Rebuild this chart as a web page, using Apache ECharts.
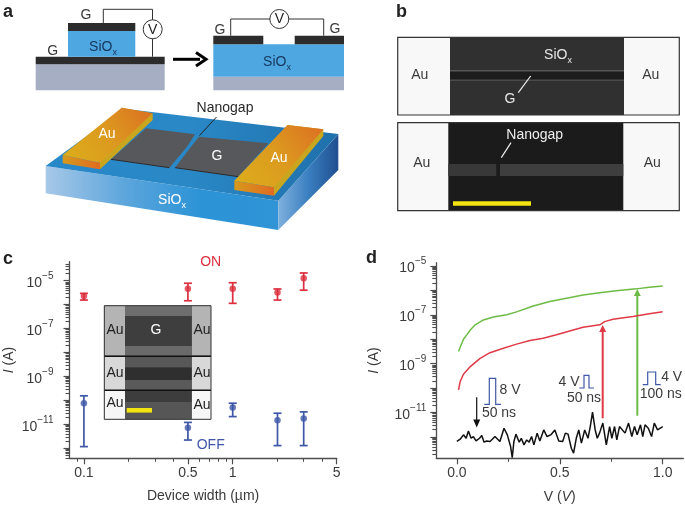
<!DOCTYPE html>
<html><head><meta charset="utf-8">
<style>html,body{margin:0;padding:0;background:#fff}#c{width:685px;height:506px}</style>
<script src="https://cdn.jsdelivr.net/npm/echarts@6/dist/echarts.min.js"></script>
</head><body><div id="c"></div>
<script>
// Panel c data: device width, current (A)
const widths = [0.1, 0.5, 1, 2, 3];
const onMid  = [2.3e-6, 4.6e-6, 4.6e-6, 3.2e-6, 1.26e-5];
const onHigh = [2.95e-6, 7.8e-6, 8.2e-6, 4.5e-6, 2.1e-5];
const onLow  = [1.55e-6, 1.45e-6, 1.13e-6, 1.55e-6, 4.0e-6];
const offMid  = [7.6e-11, 7.2e-12, 5.0e-11, 1.48e-11, 1.74e-11];
const offHigh = [1.55e-10, 1.2e-11, 7.6e-11, 2.9e-11, 3.3e-11];
const offLow  = [1.17e-12, 2.2e-12, 2.1e-11, 1.29e-12, 1.29e-12];

// Panel d data: voltage, log10 of current
const greenV = [0.008,0.016,0.032,0.048,0.065,0.089,0.129,0.177,0.242,0.290,0.371,0.452,0.532,0.613,0.694,0.774,0.871,0.935,1.0];
const greenLogI = [-8.50,-8.33,-8.00,-7.82,-7.62,-7.41,-7.21,-7.09,-7.00,-6.88,-6.64,-6.46,-6.32,-6.19,-6.10,-6.02,-5.94,-5.87,-5.82];
const redV = [0.008,0.016,0.032,0.065,0.113,0.161,0.226,0.290,0.355,0.419,0.484,0.548,0.613,0.694,0.718,0.758,0.855,0.935,1.0];
const redLogI = [-10.07,-9.73,-9.43,-9.12,-8.78,-8.55,-8.37,-8.20,-8.05,-7.96,-7.82,-7.66,-7.51,-7.41,-7.28,-7.18,-7.07,-6.96,-6.88];
const blackV = [0,0.016,0.032,0.045,0.056,0.069,0.080,0.093,0.110,0.121,0.132,0.145,0.161,0.185,0.209,0.229,0.245,0.261,0.269,0.277,0.287,0.303,0.313,0.326,0.339,0.351,0.363,0.374,0.390,0.403,0.422,0.438,0.458,0.476,0.495,0.514,0.527,0.540,0.556,0.567,0.580,0.592,0.605,0.621,0.637,0.648,0.659,0.672,0.682,0.693,0.709,0.726,0.742,0.753,0.766,0.777,0.790,0.817,0.834,0.850,0.863,0.876,0.892,0.903,0.914,0.930,0.946,0.959,0.975,1.0];
const blackLogI = [-12.18,-12.09,-11.91,-12.05,-11.75,-12.05,-11.98,-12.16,-12.05,-11.94,-12.21,-12.16,-12.18,-11.98,-12.18,-11.64,-11.91,-12.39,-12.84,-12.18,-11.88,-12.21,-12.05,-12.32,-12.12,-12.21,-11.98,-12.32,-11.84,-12.16,-11.71,-11.98,-11.90,-11.71,-12.16,-12.18,-11.84,-11.88,-12.46,-12.66,-12.05,-11.71,-12.25,-11.71,-12.05,-11.57,-10.985,-11.71,-12.05,-11.84,-11.43,-12.32,-11.57,-12.05,-11.57,-12.12,-11.57,-11.84,-11.43,-11.98,-11.57,-11.91,-11.50,-11.98,-11.50,-11.64,-11.98,-11.43,-11.71,-11.57];

// Axis tick lists
const cXMajor = [0.1, 0.5, 1, 5];
const cXMinor = [0.09, 0.2, 0.3, 0.4, 0.6, 0.7, 0.8, 0.9, 2, 3, 4];
const yLabels = [1e-5, 1e-7, 1e-9, 1e-11];
const yDecades = [1e-5, 1e-6, 1e-7, 1e-8, 1e-9, 1e-10, 1e-11, 1e-12, 1e-13];
const yMinor = [5e-5,4e-5,3e-5,2e-5,9e-6,8e-6,7e-6,6e-6,5e-6,4e-6,3e-6,2e-6,9e-7,8e-7,7e-7,6e-7,5e-7,4e-7,3e-7,2e-7,9e-8,8e-8,7e-8,6e-8,5e-8,4e-8,3e-8,2e-8,9e-9,8e-9,7e-9,6e-9,5e-9,4e-9,3e-9,2e-9,9e-10,8e-10,7e-10,6e-10,5e-10,4e-10,3e-10,2e-10,9e-11,8e-11,7e-11,6e-11,5e-11,4e-11,3e-11,2e-11,9e-12,8e-12,7e-12,6e-12,5e-12,4e-12,3e-12,2e-12,9e-13,8e-13,7e-13,6e-13,5e-13,4e-13,3e-13,2e-13];
const dXLabels = [0, 0.5, 1];
const dXMinor = [0.25, 0.75];

const FONT = '"Liberation Sans", Arial, sans-serif';
const TXT = '#3a3a3a', AX = '#4d4d4d';
const RED = '#dc2f3f', BLUE = '#3f57a6', GREEN = '#6dbb45', DRED = '#df3a46';

const G = echarts.graphic;
const g = [];
function rect(x, y, w, h, fill, extra) { g.push(Object.assign({type:'rect', shape:{x,y,width:w,height:h}, style:{fill}}, extra||{})); }
function line(points, stroke, lw) { g.push({type:'polyline', shape:{points}, style:{stroke, lineWidth:lw||1, fill:null}}); }
function poly(points, fill) { g.push({type:'polygon', shape:{points}, style:{fill}}); }
function txt(x, y, text, o) {
  o = o || {};
  g.push({type:'text', z:o.z||5, style:{x, y, text, align:o.align||'center', verticalAlign:'middle', fill:o.fill||TXT,
    font:(o.weight||'normal')+' '+(o.size||14)+'px '+FONT, rich:o.rich}});
}
function siox(x, y, fill, size) {
  txt(x, y, '{a|SiO}{s|x}', {fill, rich:{
    a:{fill, fontFamily:'Liberation Sans', fontSize:size||14, lineHeight:20},
    s:{fill, fontFamily:'Liberation Sans', fontSize:(size||14)-5, lineHeight:13, verticalAlign:'bottom'}}});
}
const z3 = p => p.map(q => [q[0]/3, q[1]/3]);
function grad(x0,y0,x1,y1,stops){ return new G.LinearGradient(x0,y0,x1,y1,stops.map((c,i)=>({offset:i/(stops.length-1),color:c}))); }

// Panel letters
txt(3,12,'a',{align:'left',weight:'bold',size:18,fill:'#222'});
txt(396,12,'b',{align:'left',weight:'bold',size:18,fill:'#222'});
txt(3,259,'c',{align:'left',weight:'bold',size:18,fill:'#222'});
txt(366,258,'d',{align:'left',weight:'bold',size:18,fill:'#222'});

// Panel a schematic, left stack
const SB='#4ea7e0', GR='#a6aec4', BK='#2c2c2c', NAVY='#16365c';
rect(35.7,64.3,129,26,GR);
rect(35.7,56.7,129,7.6,BK);
rect(68,31,67.3,25.7,SB);
rect(68,23,67.3,8,BK);
line([[103.3,23],[103.3,9.3],[152.5,9.3],[152.5,56.7]],'#333',1);
g.push({type:'circle',shape:{cx:152.7,cy:29.3,r:9.5},style:{fill:'#fff',stroke:'#333',lineWidth:1}});
txt(152.7,29.8,'V',{size:14,fill:'#222'});
txt(86,15,'G',{size:14}); txt(52.7,51,'G',{size:14});
siox(103,47,NAVY);
// process arrow
g.push({type:'line',shape:{x1:173,y1:59.3,x2:200,y2:59.3},style:{stroke:'#000',lineWidth:3}});
line([[196,52.5],[206,59.3],[196,66]],'#000',3);
// Panel a schematic, right stack
rect(213.3,76.7,130.7,13.6,GR);
rect(213.3,44.3,130.7,32.4,SB);
rect(213.3,35.7,50,8.6,BK);
rect(294.7,35.7,49.3,8.6,BK);
line([[230.7,35.7],[230.7,19],[323.7,19],[323.7,35.7]],'#333',1);
g.push({type:'circle',shape:{cx:279.3,cy:19,r:9.5},style:{fill:'#fff',stroke:'#333',lineWidth:1}});
txt(279.3,19.5,'V',{size:14,fill:'#222'});
txt(220,30,'G',{size:14}); txt(335,29.3,'G',{size:14});
siox(277,62.5,NAVY);

// Panel a, 3D device
poly(z3([[137,498],[835,602],[835,690],[137,580]]), grad(0,0,1,0,['#a7c8e8','#5ea6dc','#2b93d6','#3094d6']));
poly(z3([[835,602],[1015,402],[1015,510],[835,690]]), grad(0,0,1,0,['#7fb0de','#3a7fc0','#1f4f90']));
poly(z3([[372,326],[1015,402],[835,602],[137,498]]), grad(0,0,1,0.15,['#2788c8','#2a88c6','#1f70ab']));
poly(z3([[438,385],[585,403],[560,442],[508,503],[333,478]]), '#57585b');
poly(z3([[597,410],[805,430],[715,530],[525,503],[572,442]]), '#57585b');
line(z3([[333,478],[508,503]]),'#2b2b2b',1);
line(z3([[525,503],[715,530]]),'#2b2b2b',1);
// gold bars
poly(z3([[365,323],[458,340],[458,360],[300,508],[300,488]]), '#c9a61d');
poly(z3([[188,465],[300,488],[300,508],[188,490]]), grad(0,0,1,0,['#d69a1c','#e06a22']));
poly(z3([[365,323],[458,340],[300,488],[188,465]]), grad(0,1,1,0,['#dcae1a','#dc9a1f','#dc6f22']));
poly(z3([[862,375],[970,388],[970,408],[822,587],[822,562]]), '#c9a61d');
poly(z3([[703,542],[822,562],[822,587],[703,570]]), grad(0,0,1,0,['#d69a1c','#e06a22']));
poly(z3([[862,375],[970,388],[822,562],[703,542]]), grad(0,1,1,0,['#dcae1a','#dc9a1f','#dc6f22']));
txt(107,134,'Au',{fill:'#fff',size:14}); txt(279,158,'Au',{fill:'#fff',size:14});
txt(217,156,'G',{fill:'#fff',size:14});
siox(172,200,'#fff');
txt(225,108.5,'Nanogap',{size:14,fill:'#2a2a2a'});
line([[216.5,117],[199.5,135.5]],'#222',1);

// Panel b, micrographs
function frame(y, h, dx, dw, bg){
  rect(397.7,y,281.6,h,'#f8f8f8',{});
  rect(dx,y,dw,h,bg);
}
frame(37.3,77.7,450,174,'#303030');
rect(450,71,174,10,'#1c1c1c');
rect(450,70,174,1.4,'#565656'); rect(450,79.5,174,1.4,'#4a4a4a');
frame(122.7,88,448.3,175,'#1b1b1b');
rect(448.3,164,48,12,'#383838'); rect(500,164,123.3,12,'#3e3e3e');
rect(397.7,37.3,281.6,77.7,'none',{style:{fill:'none',stroke:'#333',lineWidth:1.2}});
rect(397.7,122.7,281.6,88,'none',{style:{fill:'none',stroke:'#333',lineWidth:1.2}});
rect(453,201.3,78,4.4,'#f2e311');
siox(558,55.5,'#e8e8e8');
txt(510,99.5,'G',{fill:'#e8e8e8'});
line([[530.7,76],[518.3,92.7]],'#eee',1.2);
txt(419.7,75.3,'Au'); txt(650.7,75.3,'Au'); txt(421.7,163.3,'Au'); txt(652.3,163.3,'Au');
txt(534.7,135,'Nanogap',{fill:'#eee'});
line([[511,142.7],[501.3,157.7]],'#eee',1.2);

// Panel c text
txt(210.7,262,'ON',{fill:RED,size:14});
txt(210.7,444.7,'OFF',{fill:BLUE,size:14});

// Panel d annotations
function arrow(x,y0,y1,c,lw,hw){
  g.push({type:'line',shape:{x1:x,y1:y0,x2:x,y2:y1+4},style:{stroke:c,lineWidth:lw}});
  poly([[x-hw,y1+7],[x+hw,y1+7],[x,y1]],c);
}
g.push({type:'line',shape:{x1:476.7,y1:397.3,x2:476.7,y2:421},style:{stroke:'#111',lineWidth:1.2}});
poly([[473.2,419.5],[480.2,419.5],[476.7,427.5]],'#111');
arrow(602.7,418.3,325,DRED,2,3.5);
arrow(637.3,415.7,289,GREEN,2,3.5);
line([[484.3,404.3],[489.3,404.3],[489.3,378.3],[495.7,378.3],[495.7,404.3],[501,404.3]],BLUE,1.2);
line([[579.3,388],[584,388],[584,375.3],[589,375.3],[589,388],[594,388]],BLUE,1.2);
line([[642.7,384.7],[647.7,384.7],[647.7,372],[655.7,372],[655.7,384.7],[660.7,384.7]],BLUE,1.2);
txt(510,390.3,'8 V'); txt(499,413,'50 ns');
txt(569,382.3,'4 V'); txt(584,398.3,'50 ns');
txt(671.7,377,'4 V'); txt(660.7,394.3,'100 ns');

// Inset of panel c, above the axes
function inRect(x,y,w,h,f){ g.push({type:'rect',z:20,shape:{x,y,width:w,height:h},style:{fill:f}}); }
inRect(104.3,305.7,106.7,113.6,'#444');
inRect(104.3,305.7,20.7,50,'#b4b4b4'); inRect(191.7,305.7,19.3,50,'#b4b4b4');
inRect(104.3,357,20.7,33,'#d8d8d8'); inRect(191.7,357,19.3,33,'#d8d8d8');
inRect(104.3,391,20.7,28.3,'#f6f6f6'); inRect(191.7,391,19.3,28.3,'#f6f6f6');
inRect(125,305.7,66.7,10.3,'#6e6e6e'); inRect(125,316,66.7,30,'#3e3e3e'); inRect(125,346,66.7,10,'#6a6a6a');
inRect(125,357,66.7,10.5,'#585858'); inRect(125,367.5,66.7,12.5,'#2f2f2f'); inRect(125,380,66.7,10,'#5a5a5a');
inRect(125,391,66.7,11,'#3d3d3d'); inRect(125,402,66.7,17.3,'#565656');
inRect(104.3,355.5,106.7,1.6,'#111'); inRect(104.3,389.5,106.7,1.6,'#111');
inRect(126.7,408,25.3,4.6,'#f2e311');
g.push({type:'rect',z:21,shape:{x:104.3,y:305.7,width:106.7,height:113.6},style:{fill:'none',stroke:'#333',lineWidth:1}});
[[115,330],[202,330],[115,372.7],[202,372.7],[115,403.3],[202,404.7]].forEach(p=>txt(p[0],p[1],'Au',{size:14,z:22,fill:'#222'}));
txt(156,330,'G',{size:14,z:22,fill:'#fff'});

// Axes
const expLabel = v => '{b|10}{e|\u2212' + Math.round(-Math.log10(v)) + '}';
const richExp = {
  b:{fontFamily:'Liberation Sans',fontSize:14,color:TXT,lineHeight:19,verticalAlign:'bottom'},
  e:{fontFamily:'Liberation Sans',fontSize:10,color:TXT,lineHeight:19,verticalAlign:'top'}
};
const axLine = {show:true,onZero:false,lineStyle:{color:AX,width:1.3}};
const noLine = {show:false,onZero:false};
function logY(grid, min, max, margin){
  return [
    {type:'log',gridIndex:grid,min,max,position:'left',splitLine:{show:false},axisLine:axLine,
     axisTick:{show:true,length:6,customValues:yDecades,lineStyle:{color:AX,width:1.2}},
     axisLabel:{show:true,customValues:yLabels,formatter:expLabel,rich:richExp,margin,showMinLabel:true,showMaxLabel:true}},
    {type:'log',gridIndex:grid,min,max,position:'left',splitLine:{show:false},axisLine:noLine,
     axisTick:{show:true,length:4,customValues:yMinor,lineStyle:{color:AX,width:1.1}},axisLabel:{show:false}}
  ];
}
const nameIA = {
  name:'{i|I} (A)',nameLocation:'middle',nameMoveOverlap:false,
  nameTextStyle:{rich:{i:{fontStyle:'italic',fontFamily:'Liberation Sans',fontSize:14,color:TXT}},fontFamily:'Liberation Sans',fontSize:14,color:TXT}
};
const xAxes = [
  {type:'log',gridIndex:0,min:0.08,max:5,position:'bottom',splitLine:{show:false},axisLine:axLine,
   axisTick:{show:true,length:6,customValues:cXMajor,lineStyle:{color:AX,width:1.2}},
   axisLabel:{show:true,customValues:cXMajor,formatter:v=>String(Math.round(v*10)/10),fontFamily:'Liberation Sans',fontSize:14,color:TXT,margin:8},
   name:'Device width (\u00b5m)',nameLocation:'middle',nameGap:31,nameMoveOverlap:false,nameTextStyle:{fontFamily:'Liberation Sans',fontSize:14,color:TXT}},
  {type:'log',gridIndex:0,min:0.08,max:5,position:'bottom',splitLine:{show:false},axisLine:noLine,
   axisTick:{show:true,length:3.5,customValues:cXMinor,lineStyle:{color:AX,width:1}},axisLabel:{show:false}},
  {type:'value',gridIndex:1,min:-0.1,max:1.1,position:'bottom',splitLine:{show:false},axisLine:axLine,
   axisTick:{show:true,length:6,customValues:dXLabels,lineStyle:{color:AX,width:1.2}},
   axisLabel:{show:true,customValues:dXLabels,formatter:v=>v.toFixed(1),fontFamily:'Liberation Sans',fontSize:14,color:TXT,margin:8},
   name:'V ({i|V})',nameLocation:'middle',nameGap:32,nameMoveOverlap:false,
   nameTextStyle:{fontFamily:'Liberation Sans',fontSize:14,color:TXT,rich:{i:{fontStyle:'italic',fontFamily:'Liberation Sans',fontSize:14,color:TXT}}}},
  {type:'value',gridIndex:1,min:-0.1,max:1.1,position:'bottom',splitLine:{show:false},axisLine:noLine,
   axisTick:{show:true,length:3.5,customValues:dXMinor,lineStyle:{color:AX,width:1}},axisLabel:{show:false}}
];
const yC = logY(0,3.8e-13,6.2e-5,16);
const yD = logY(1,1.35e-13,1.35e-5,10);
Object.assign(yC[0],nameIA,{nameGap:53});
Object.assign(yD[0],nameIA,{nameGap:55.5});

function errSeries(name,color,mid,hi,lo,xi,yi){
  return [{
    type:'custom',name,xAxisIndex:xi,yAxisIndex:yi,clip:false,z:3,
    data:widths.map((w,i)=>[w,lo[i],hi[i]]),
    renderItem(p,api){
      const a=api.coord([api.value(0),api.value(1)]),b=api.coord([api.value(0),api.value(2)]);
      const st={stroke:color,lineWidth:1.7}, hw=4;
      return {type:'group',children:[
        {type:'line',shape:{x1:a[0],y1:a[1],x2:b[0],y2:b[1]},style:st},
        {type:'line',shape:{x1:a[0]-hw,y1:a[1],x2:a[0]+hw,y2:a[1]},style:st},
        {type:'line',shape:{x1:b[0]-hw,y1:b[1],x2:b[0]+hw,y2:b[1]},style:st}
      ]};
    }
  },{
    type:'scatter',name:name+' mean',xAxisIndex:xi,yAxisIndex:yi,symbol:'circle',symbolSize:6.5,z:4,
    itemStyle:{color},data:widths.map((w,i)=>[w,mid[i]])
  }];
}
function curve(name,color,xs,logs,lw){
  return {type:'line',name,xAxisIndex:2,yAxisIndex:2,symbol:'none',smooth:false,z:3,
    lineStyle:{color,width:lw},data:xs.map((v,i)=>[v,Math.pow(10,logs[i])])};
}

const chart = echarts.init(document.getElementById('c'),null,{renderer:'canvas'});
chart.setOption({
  animation:false,backgroundColor:'#fff',
  textStyle:{fontFamily:'Liberation Sans'},
  grid:[
    {left:69.5,top:261.7,width:267.2,height:196.6,containLabel:false,outerBoundsMode:'none'},
    {left:436.3,top:262.7,width:247,height:195.6,containLabel:false,outerBoundsMode:'none'}
  ],
  xAxis:xAxes,
  yAxis:yC.concat(yD),
  series:[
    ...errSeries('ON',RED,onMid,onHigh,onLow,0,0),
    ...errSeries('OFF',BLUE,offMid,offHigh,offLow,0,0),
    curve('Green',GREEN,greenV,greenLogI,1.5),
    curve('Red',DRED,redV,redLogI,1.5),
    curve('Black','#111',blackV,blackLogI,1.5)
  ],
  graphic:{elements:g}
});
</script></body></html>
